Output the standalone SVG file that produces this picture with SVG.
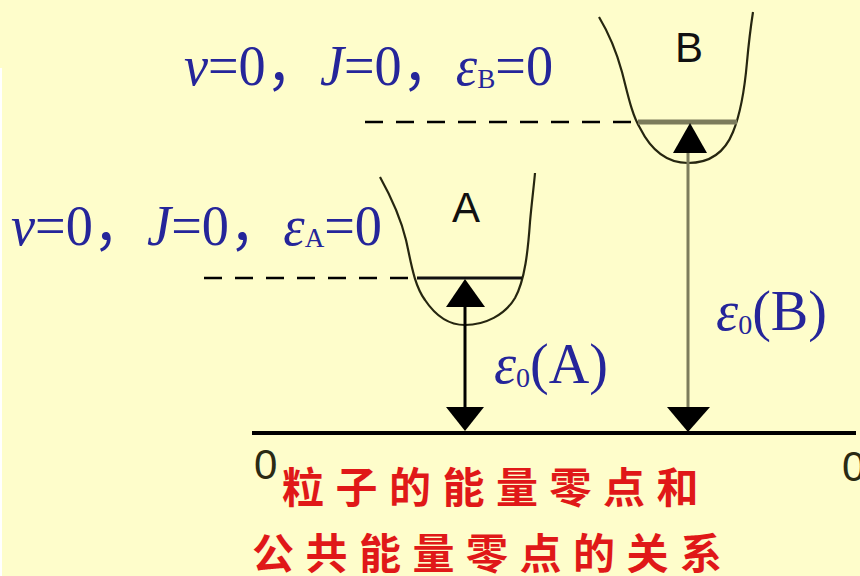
<svg xmlns="http://www.w3.org/2000/svg" width="860" height="576" viewBox="0 0 860 576">
<style>
.well{fill:none;stroke:#262610;stroke-width:2.2}
.dash{stroke:#000;stroke-width:2.6;stroke-dasharray:18 13}
.blue{font-family:"Liberation Serif","Noto Sans CJK SC",serif;font-size:56px;fill:#25259a}
.it{font-style:italic}
.sub{font-size:28px}
.cap{font-family:"Liberation Sans",Arial,sans-serif;font-size:42px;fill:#111}
.zero{font-family:"Liberation Sans",Arial,sans-serif;font-size:42px;fill:#2a2a14}
.cn{font-family:"Noto Sans CJK SC",sans-serif;font-size:42px;font-weight:700;fill:#e01818;letter-spacing:11.5px}
</style>
<rect width="860" height="576" fill="#fefdcb"/>
<rect x="0" y="68" width="2" height="508" fill="#ffffff"/>

<g id="well-A">
<path class="well" d="M380,177 C390,195 400,215 406,240 C411,262 414,285 425,300 C437,318 450,325 465,325 C485,325 505,315 515,298 C525,280 528,250 530,222 C532,200 534,185 535,173"/>
<line x1="417" y1="278" x2="522" y2="278" stroke="#111" stroke-width="3"/>
<text class="cap" x="466" y="222" text-anchor="middle">A</text>
</g>

<g id="well-B">
<path class="well" d="M599,17 C608,32 616,50 622,72 C628,95 632,115 640,128 C650,148 665,163 688,163 C710,163 725,152 733,132 C742,110 745,85 747,62 C749,40 751,25 753,12"/>
<line x1="638" y1="122" x2="737" y2="122" stroke="#7c7c5c" stroke-width="5"/>
<text class="cap" x="689" y="62" text-anchor="middle">B</text>
</g>

<g id="axis">
<line x1="252" y1="433" x2="856" y2="433" stroke="#000" stroke-width="4"/>
<text class="zero" x="254" y="479">0</text>
<text class="zero" x="842" y="481">0</text>
</g>

<g id="connectors">
<line class="dash" x1="204" y1="278" x2="416" y2="278"/>
<line class="dash" x1="365" y1="122" x2="638" y2="122"/>
<line x1="465" y1="305" x2="465" y2="409" stroke="#000" stroke-width="3"/>
<polygon points="465,279 446,307 485,307" fill="#000"/>
<polygon points="446,407 484,407 465,431" fill="#000"/>
<line x1="688" y1="150" x2="688" y2="409" stroke="#7c7c5c" stroke-width="3"/>
<polygon points="690,123 673,153 707,153" fill="#000"/>
<polygon points="667,407 710,407 688,432" fill="#000"/>
</g>

<g id="label-B-level">
<text class="blue" x="184" y="85" textLength="369" lengthAdjust="spacingAndGlyphs"><tspan class="it">ν</tspan>=0，<tspan class="it">J</tspan>=0，<tspan class="it">ε</tspan><tspan class="sub" dy="3">B</tspan><tspan dy="-3">=0</tspan></text>
</g>
<g id="label-A-level">
<text class="blue" x="11" y="245" textLength="371" lengthAdjust="spacingAndGlyphs"><tspan class="it">ν</tspan>=0，<tspan class="it">J</tspan>=0，<tspan class="it">ε</tspan><tspan class="sub" dy="2">A</tspan><tspan dy="-2">=0</tspan></text>
</g>
<g id="label-e0A">
<text class="blue" x="494" y="383" textLength="114" lengthAdjust="spacingAndGlyphs"><tspan class="it">ε</tspan><tspan class="sub" dy="4">0</tspan><tspan dy="-4">(A)</tspan></text>
</g>
<g id="label-e0B">
<text class="blue" x="716" y="330" textLength="111" lengthAdjust="spacingAndGlyphs"><tspan class="it">ε</tspan><tspan class="sub" dy="4">0</tspan><tspan dy="-4">(B)</tspan></text>
</g>

<g id="caption">
<text class="cn" x="282" y="503">粒子的能量零点和</text>
<text class="cn" x="252" y="569">公共能量零点的关系</text>
</g>
</svg>
